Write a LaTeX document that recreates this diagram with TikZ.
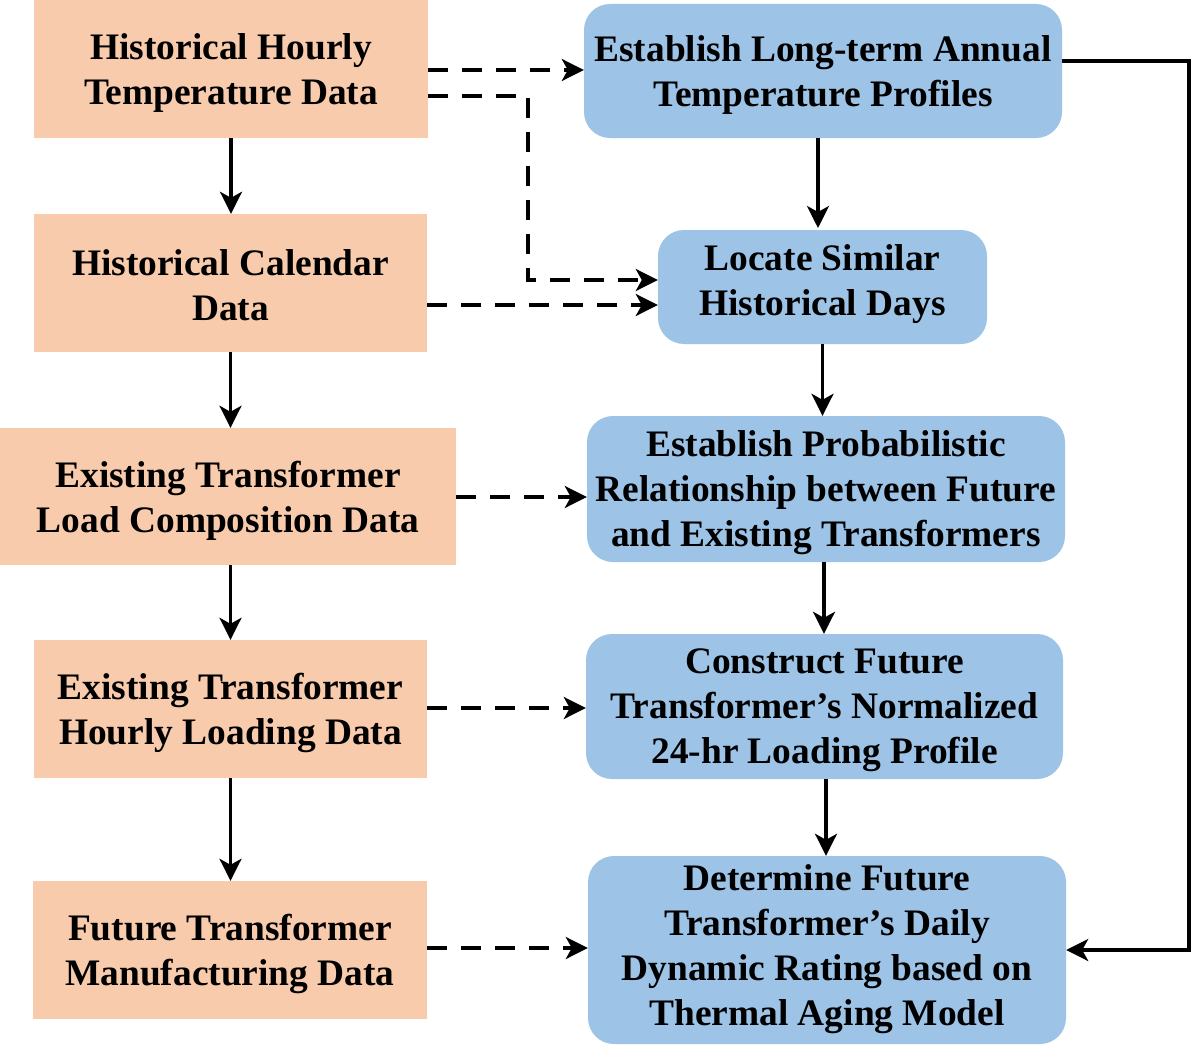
\documentclass[tikz,border=0pt]{standalone}
\usepackage{fontspec}
\newfontfamily\boxfont{Liberation Serif}[BoldFont={Liberation Serif Bold}]
\usetikzlibrary{arrows.meta,calc}
\definecolor{inbox}{HTML}{F8CBAD}
\definecolor{stepfill}{HTML}{9DC3E6}
\begin{document}
\begin{tikzpicture}[x=1pt,y=-1pt,
  every node/.style={inner sep=0pt},
  txt/.style={font=\boxfont\fontsize{37.4}{45}\selectfont\bfseries, align=center, yshift=-4pt},
  databox/.style={fill=inbox, minimum width=#1, draw=none},
  procbox/.style={fill=stepfill, rounded corners=26pt, draw=none},
  flow/.style={line width=3.4pt, -{Stealth[length=22pt,width=22pt,inset=6pt]}},
  feed/.style={flow, dash pattern=on 20pt off 14pt}
]
\useasboundingbox (0,0) rectangle (1192,1057);

% input data (left column)
\node[databox=394pt, minimum height=138pt, label={[txt]center:{Historical Hourly\\Temperature Data}}] (h1) at (231,69) {};
\node[databox=393pt, minimum height=138pt, label={[txt, yshift=2pt]center:{Historical Calendar\\Data}}] (h2) at (230.5,283) {};
\node[databox=456pt, minimum height=137pt, label={[txt]center:{Existing Transformer\\Load Composition Data}}] (h3) at (228,496.5) {};
\node[databox=393pt, minimum height=138pt, label={[txt]center:{Existing Transformer\\Hourly Loading Data}}] (h4) at (230.5,709) {};
\node[databox=394pt, minimum height=138pt, label={[txt]center:{Future Transformer\\Manufacturing Data}}] (h5) at (230,950) {};

% processing steps (right column)
\node[procbox, minimum width=478pt, minimum height=134pt, label={[txt]center:{Establish Long-term Annual\\Temperature Profiles}}] (s1) at (823,71) {};
\node[procbox, minimum width=329pt, minimum height=114pt, label={[txt, yshift=7pt]center:{Locate Similar\\Historical Days}}] (s2) at (822.5,287) {};
\node[procbox, minimum width=478pt, minimum height=146pt, label={[txt]center:{Establish Probabilistic\\Relationship between Future\\and Existing Transformers}}] (s3) at (826,489) {};
\node[procbox, minimum width=477pt, minimum height=145pt, label={[txt]center:{Construct Future\\Transformer’s Normalized\\24-hr Loading Profile}}] (s4) at (824.5,706.5) {};
\node[procbox, minimum width=478pt, minimum height=188pt, label={[txt, yshift=5pt]center:{Determine Future\\Transformer’s Daily\\Dynamic Rating based on\\Thermal Aging Model}}] (s5) at (827,950) {};

% left column flow
\draw[flow] (h1.south) -- (h1.south |- h2.north);
\draw[flow] (h2.south) -- (h2.south |- h3.north);
\draw[flow] (h3.south -| h2.south) -- (h2.south |- h4.north);
\draw[flow] (h4.south) -- (h4.south |- h5.north);

% right column flow
\draw[flow] (818,138) -- (818,228);
\draw[flow] (s2.south) -- (s2.south |- s3.north);
\draw[flow] (s3.south -| 824,0) -- (824,0 |- s4.north);
\draw[flow] (s4.south -| 826,0) -- (826,0 |- s5.north);

% data feeds
\draw[feed] (h1.east |- 0,70) -- (s1.west |- 0,70);
\draw[feed] (h1.east |- 0,96) -- (528,96) -- (528,280) -- (s2.west |- 0,280);
\draw[feed] (h2.east |- 0,305) -- (s2.west |- 0,305);
\draw[feed] (h3.east |- 0,497) -- (s3.west |- 0,497);
\draw[feed] (h4.east |- 0,708) -- (s4.west |- 0,708);
\draw[feed] (h5.east |- 0,948) -- (s5.west |- 0,948);

% feedback to rating
\draw[flow] (s1.east |- 0,61) -- (1189,61) -- (1189,950) -- (s5.east |- 0,950);
\end{tikzpicture}
\end{document}
